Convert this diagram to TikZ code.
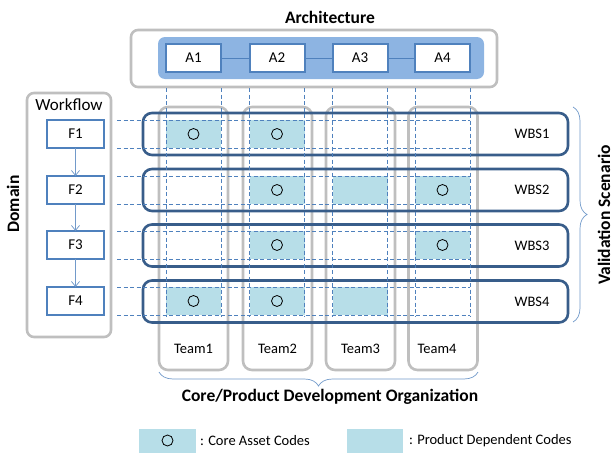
\documentclass[tikz,border=0pt]{standalone}
\usepackage{fontspec}
\setmainfont{Carlito}
\usetikzlibrary{decorations.pathreplacing,arrows.meta}
\definecolor{grayline}{HTML}{BFBFBF}
\definecolor{boxblue}{HTML}{4F81BD}
\definecolor{innerblue}{HTML}{8DB4E2}
\definecolor{wbsblue}{HTML}{385D8A}
\definecolor{cellblue}{HTML}{B7DEE8}
\definecolor{guideblue}{HTML}{4F81BD}
\begin{document}
\begin{tikzpicture}[x=1pt,y=-1pt,
  every node/.style={outer sep=0pt, inner sep=0pt},
  graybox/.style={draw=grayline, line width=2.6pt, rounded corners=7pt},
  innerbox/.style={fill=innerblue, rounded corners=7pt},
  abox/.style={draw=boxblue, fill=white, line width=2pt, minimum width=55pt, minimum height=28pt, font=\fontsize{15}{15}\selectfont},
  fbox/.style={draw=boxblue, fill=white, line width=2.2pt, minimum width=57pt, minimum height=28pt, font=\fontsize{15}{15}\selectfont},
  link/.style={draw=boxblue, line width=0.6pt},
  flow/.style={draw=boxblue!80, line width=0.7pt, -{Straight Barb[length=5pt,width=8pt]}},
  guide/.style={draw=guideblue, line width=0.6pt, dash pattern=on 4pt off 2.5pt},
  teamcol/.style={draw=grayline, line width=2.6pt, rounded corners=9pt, minimum width=69pt, minimum height=263pt},
  wbsrow/.style={draw=wbsblue, line width=2.6pt, rounded corners=9pt, minimum width=425pt, minimum height=42pt},
  cell/.style={fill=cellblue, minimum width=55pt, minimum height=28pt},
  coremark/.style={draw=black, line width=0.8pt, circle, minimum size=11pt},
  lbl/.style={font=\fontsize{14.5}{14.5}\selectfont},
  title/.style={font=\fontsize{17.5}{17.5}\selectfont\bfseries},
  bracestyle/.style={draw=boxblue!80, line width=0.7pt, decorate, decoration={brace, amplitude=14pt}}
]
\useasboundingbox (0,0) rectangle (616,455);

% Architecture
\node[title] (archtitle) at (330,17) {Architecture};
\node[graybox, minimum width=366pt, minimum height=57pt] (archbox) at (314,58.5) {};
\node[innerbox, minimum width=326pt, minimum height=42pt] (archinner) at (321,58) {};
\node[abox] (A1) at (193.5,58) {A1};
\node[abox] (A2) at (277,58) {A2};
\node[abox] (A3) at (360,58) {A3};
\node[abox] (A4) at (442.5,58) {A4};
\draw[link] (A1) -- (A2);
\draw[link] (A2) -- (A3);
\draw[link] (A3) -- (A4);

% Team columns
\node[teamcol] (T1) at (193.5,238.5) {};
\node[teamcol] (T2) at (277.5,238.5) {};
\node[teamcol] (T3) at (360.5,238.5) {};
\node[teamcol] (T4) at (443,238.5) {};
\node[lbl] (T1l) at (193.5,349) {Team1};
\node[lbl] (T2l) at (277.5,349) {Team2};
\node[lbl] (T3l) at (360.5,349) {Team3};
\node[lbl] (T4l) at (437,349) {Team4};

% Workflow
\node[graybox, minimum width=84pt, minimum height=244pt] (wfbox) at (69,215) {};
\node[font=\fontsize{17}{17}\selectfont] (wftitle) at (69,105) {Workflow};
\node[fbox] (F1) at (75.5,134) {F1};
\node[fbox] (F2) at (75.5,190) {F2};
\node[fbox] (F3) at (75.5,245) {F3};
\node[fbox] (F4) at (75.5,301) {F4};
\draw[flow] (F1) -- (F2);
\draw[flow] (F2) -- (F3);
\draw[flow] (F3) -- (F4);

% WBS rows
\node[wbsrow] (W1) at (355.5,134) {};
\node[wbsrow] (W2) at (355.5,190) {};
\node[wbsrow] (W3) at (355.5,245.5) {};
\node[wbsrow] (W4) at (355.5,301.5) {};
\node[lbl] (W1l) at (532,134) {WBS1};
\node[lbl] (W2l) at (532,190) {WBS2};
\node[lbl] (W3l) at (532,245.5) {WBS3};
\node[lbl] (W4l) at (532,301.5) {WBS4};

% cells
\node[cell] (c11) at (A1 |- F1) {};
\node[cell] (c21) at (A2 |- F1) {};
\node[cell] (c22) at (A2 |- F2) {};
\node[cell] (c32) at (A3 |- F2) {};
\node[cell] (c42) at (A4 |- F2) {};
\node[cell] (c23) at (A2 |- F3) {};
\node[cell] (c43) at (A4 |- F3) {};
\node[cell] (c14) at (A1 |- F4) {};
\node[cell] (c24) at (A2 |- F4) {};
\node[cell] (c34) at (A3 |- F4) {};
\node[coremark] (o11) at (c11) {};
\node[coremark] (o21) at (c21) {};
\node[coremark] (o22) at (c22) {};
\node[coremark] (o42) at (c42) {};
\node[coremark] (o23) at (c23) {};
\node[coremark] (o43) at (c43) {};
\node[coremark] (o14) at (c14) {};
\node[coremark] (o24) at (c24) {};

% guide lines
\coordinate (hl) at (117,0);
\coordinate (hr) at (470,0);
\coordinate (vt) at (0,88);
\coordinate (vb) at (0,316);
\foreach \f in {F1,F2,F3,F4}{
  \draw[guide] (\f.north -| hl) -- (\f.north -| hr);
  \draw[guide] (\f.south -| hl) -- (\f.south -| hr);
}
\foreach \a in {A1,A2,A3,A4}{
  \draw[guide] (\a.west |- vt) -- (\a.west |- vb);
  \draw[guide] (\a.east |- vt) -- (\a.east |- vb);
}

% braces
\coordinate (rbt) at (573,107);
\coordinate (rbb) at (573,322);
\draw[bracestyle] (rbt) -- (rbb);
\coordinate (bbr) at (478,372);
\coordinate (bbl) at (159,372);
\draw[bracestyle] (bbr) -- (bbl);

\node[title, rotate=90] (domain) at (13,204) {Domain};
\node[title, rotate=90] (valid) at (604,215) {Validation Scenario};
\node[title] (orgtitle) at (330,397) {Core/Product Development Organization};

% legend
\node[fill=cellblue, minimum width=57pt, minimum height=24pt] (leg1) at (167.5,440.5) {};
\node[coremark] (leg1o) at (leg1) {};
\node[lbl, anchor=west] (leg1t) at (200,441) {: Core Asset Codes};
\node[fill=cellblue, minimum width=56pt, minimum height=24pt] (leg2) at (374.5,440.5) {};
\node[lbl, anchor=west] (leg2t) at (409,441) {: Product Dependent Codes};
\end{tikzpicture}
\end{document}
